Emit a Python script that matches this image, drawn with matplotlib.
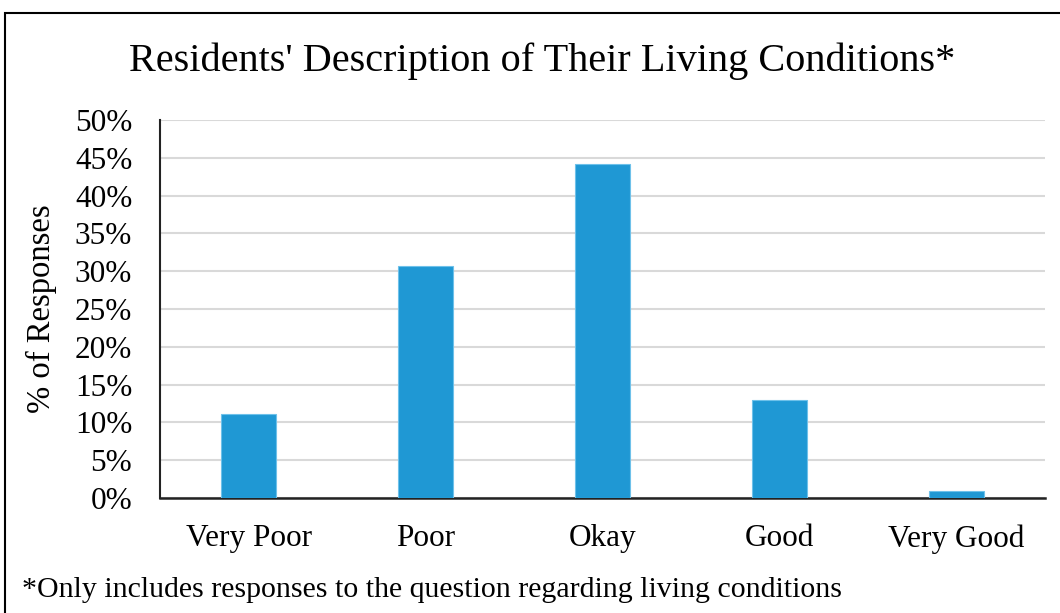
import matplotlib.pyplot as plt
from matplotlib.patches import Rectangle
from matplotlib.ticker import PercentFormatter

categories = ['Very Poor', 'Poor', 'Okay', 'Good', 'Very Good']
responses = [11.1, 30.7, 44.2, 13.0, 0.9]
yticks = [0, 5, 10, 15, 20, 25, 30, 35, 40, 45, 50]

plt.rcParams['font.family'] = ['Liberation Serif', 'DejaVu Serif']

fig = plt.figure(figsize=(10.6, 6.13), dpi=100)
ax = fig.add_axes([0.151, 0.1876, 0.835, 0.6166])

x = range(len(categories))
ax.bar(x, responses, width=0.31, color='#1f98d4', edgecolor='#6ec1ea', linewidth=0.8, zorder=3)

ax.set_xlim(-0.5, len(categories) - 0.5)
ax.set_ylim(0, 50)
ax.set_yticks(yticks)
ax.yaxis.set_major_formatter(PercentFormatter(decimals=0))
ax.set_xticks(list(x))
ax.set_xticklabels(categories)
ax.tick_params(axis='both', length=0, labelsize=22.5, colors='black')
ax.tick_params(axis='x', pad=19)
ax.tick_params(axis='y', pad=20)
ax.grid(axis='y', color='#d9d9d9', linewidth=1.5, zorder=0)

for side in ['top', 'right']:
    ax.spines[side].set_visible(False)
ax.spines['left'].set_color('#222222')
ax.spines['left'].set_linewidth(1.5)
ax.spines['bottom'].set_color('#222222')
ax.spines['bottom'].set_linewidth(1.8)

ax.set_ylabel('% of Responses', fontsize=23.5, labelpad=13)

fig.text(0.511, 0.9, "Residents' Description of Their Living Conditions*",
         ha='center', va='center', fontsize=29)
fig.text(0.021, 0.037, '*Only includes responses to the question regarding living conditions',
         ha='left', va='center', fontsize=21.5)

# frame round the figure
fig.patches.append(Rectangle((5 / 1060, -0.05), 1.1, 1.05 - 13 / 613,
                             transform=fig.transFigure, fill=False,
                             edgecolor='black', linewidth=1.5))

fig.savefig('out.png', dpi=100)
